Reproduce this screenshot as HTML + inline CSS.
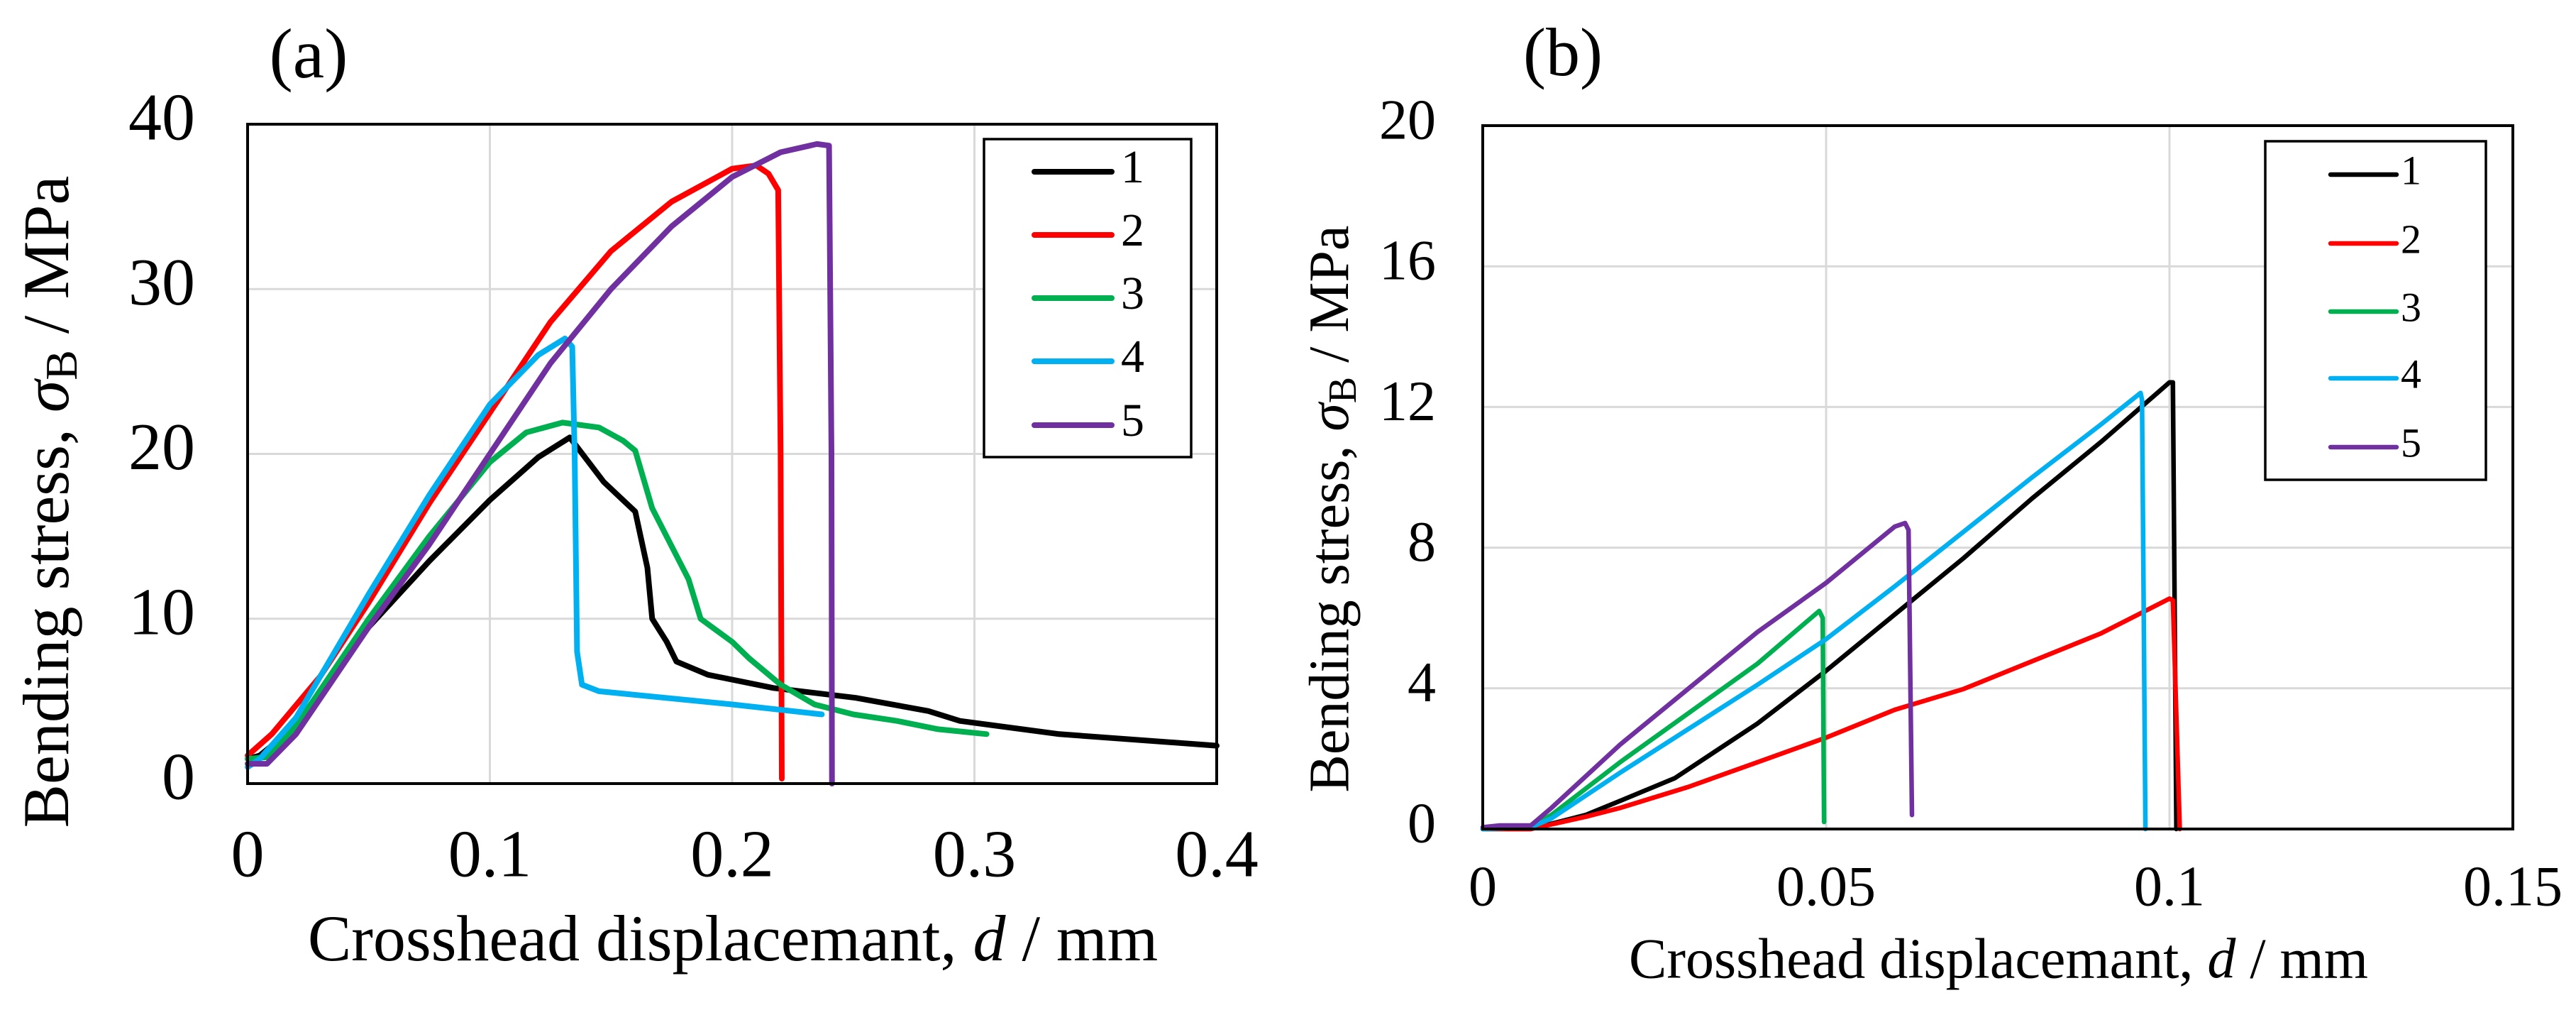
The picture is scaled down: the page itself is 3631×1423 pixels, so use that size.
<!DOCTYPE html>
<html><head><meta charset="utf-8">
<style>
html,body{margin:0;padding:0;background:#fff;}
svg{display:block;font-family:"Liberation Serif","DejaVu Serif",serif;}
</style></head>
<body>
<svg id="fig" width="3631" height="1423" viewBox="0 0 3631 1423" xmlns="http://www.w3.org/2000/svg">
<rect width="3631" height="1423" fill="#fff"/>
<g id="chartA"></g>
<g id="chartB"></g>
</svg>
<script>
// ---- Chart (a) data ----
const seriesNames = ["1","2","3","4","5"];
const seriesColors = ["#000000","#ff0000","#00b050","#00b0f0","#7030a0"];
const aXTicks = [0,0.1,0.2,0.3,0.4];
const aXTickLabels = ["0","0.1","0.2","0.3","0.4"];
const aYTicks = [0,10,20,30,40];
const aYTickLabels = ["0","10","20","30","40"];
const a1x = [0,0.005,0.02,0.05,0.075,0.1,0.12,0.133,0.147,0.16,0.165,0.167,0.173,0.177,0.19,0.217,0.251,0.281,0.294,0.335,0.4];
const a1y = [1.5,1.7,3.5,9.5,13.5,17.2,19.8,21.0,18.3,16.5,13.1,10,8.6,7.4,6.6,5.8,5.2,4.4,3.8,3.0,2.3];
const a2x = [0,0.01,0.03,0.05,0.075,0.1,0.125,0.15,0.175,0.2,0.21,0.215,0.219,0.22,0.2205];
const a2y = [1.7,3.0,6.5,11,17,22.5,28,32.3,35.3,37.3,37.5,37,36,20,0.3];
const a3x = [0,0.008,0.02,0.05,0.075,0.1,0.115,0.13,0.145,0.155,0.16,0.167,0.182,0.187,0.2,0.207,0.22,0.234,0.25,0.268,0.285,0.305];
const a3y = [1.5,1.6,3.5,10,15,19.5,21.3,21.9,21.6,20.8,20.2,16.7,12.4,10,8.6,7.6,6,4.8,4.2,3.8,3.3,3.0];
const a4x = [0,0.005,0.02,0.05,0.075,0.1,0.12,0.131,0.134,0.135,0.136,0.138,0.145,0.2,0.237];
const a4y = [1.0,1.5,4,11.5,17.5,23,26,27.0,26.5,20,8,6,5.6,4.8,4.2];
const a5x = [0,0.008,0.02,0.05,0.075,0.1,0.125,0.15,0.175,0.2,0.22,0.235,0.24,0.241,0.2412];
const a5y = [1.2,1.2,3,9.5,14.5,20,25.5,30,33.8,36.8,38.3,38.8,38.7,20,0];
// ---- Chart (b) data ----
const bXTicks = [0,0.05,0.1,0.15];
const bXTickLabels = ["0","0.05","0.1","0.15"];
const bYTicks = [0,4,8,12,16,20];
const bYTickLabels = ["0","4","8","12","16","20"];
const b1x = [0,0.007,0.015,0.02,0.028,0.04,0.05,0.06,0.07,0.08,0.09,0.1,0.1005,0.101];
const b1y = [0,0,0.4,0.8,1.45,3.0,4.5,6.1,7.7,9.4,11.0,12.7,12.7,0];
const b2x = [0,0.007,0.015,0.02,0.03,0.04,0.05,0.06,0.07,0.08,0.09,0.1,0.1005,0.1015];
const b2y = [0,0,0.35,0.6,1.2,1.9,2.6,3.39,3.98,4.77,5.56,6.55,6.5,0];
const b3x = [0,0.007,0.01,0.02,0.03,0.04,0.049,0.0495,0.0497];
const b3y = [0,0.05,0.4,1.9,3.3,4.7,6.2,6.0,0.2];
const b4x = [0,0.007,0.01,0.02,0.03,0.04,0.05,0.06,0.07,0.08,0.09,0.0958,0.096,0.0965];
const b4y = [0,0.05,0.3,1.6,2.85,4.1,5.4,6.9,8.45,10,11.5,12.4,12.2,0];
const b5x = [0,0.0025,0.007,0.01,0.02,0.03,0.04,0.05,0.06,0.0615,0.062,0.0625];
const b5y = [0.05,0.1,0.1,0.6,2.4,4.0,5.6,7.0,8.6,8.7,8.5,0.4];

const NS="http://www.w3.org/2000/svg";
function mk(parent,tag,attrs,text){
  const e=document.createElementNS(NS,tag);
  for(const k in attrs) e.setAttribute(k,attrs[k]);
  if(text!==undefined) e.textContent=text;
  parent.appendChild(e); return e;
}

function drawChart(g,cfg){
  const {L,R,T,B,xMax,yMax,xTicks,xLabels,yTicks,yLabels,sx,sy,lw,tickFs,titleFs,xTitleY,yTitleX,panel,panelX,panelY,leg} = cfg;
  const X=v=>L+(v/xMax)*(R-L);
  const Y=v=>B-(v/yMax)*(B-T);
  xTicks.forEach((t,i)=>{
    if(t>0&&t<xMax){const l=mk(g,'line',{x1:X(t),x2:X(t),y1:T,y2:B,stroke:'#d9d9d9','stroke-width':3});
    
    }
    const tx=mk(g,'text',{x:X(t),y:cfg.xLabelY,'font-size':tickFs,'text-anchor':'middle','dominant-baseline':'middle'},xLabels[i]);
    
    
  });
  yTicks.forEach((t,i)=>{
    if(t>0&&t<yMax){const l=mk(g,'line',{x1:L,x2:R,y1:Y(t),y2:Y(t),stroke:'#d9d9d9','stroke-width':3});
    
    }
    const ty=mk(g,'text',{x:cfg.yLabelX,y:Y(t),'font-size':tickFs,'text-anchor':'end','dominant-baseline':'middle'},yLabels[i]);
    
    
  });
  sx.forEach((xs,si)=>{
    const ys=sy[si];
    const d=xs.map((v,i)=>(i?'L':'M')+X(v).toFixed(1)+','+Y(ys[i]).toFixed(1)).join(' ');
    const p=mk(g,'path',{d:d,fill:'none',stroke:seriesColors[si],'stroke-width':lw,'stroke-linejoin':'round','stroke-linecap':'round'});
    
    
  });
  const fr=mk(g,'rect',{x:L,y:T,width:R-L,height:B-T,fill:'none',stroke:'#000','stroke-width':4});
  
  
  const lb=mk(g,'rect',{x:leg.x,y:leg.y,width:leg.w,height:leg.h,fill:'#fff',stroke:'#000','stroke-width':3.5});
  
  
  seriesNames.forEach((n,i)=>{
    const yy=leg.ys[i];
    const ll=mk(g,'line',{x1:leg.l1,x2:leg.l2,y1:yy,y2:yy,stroke:seriesColors[i],'stroke-width':lw,'stroke-linecap':'round'});
    
    
    const lt=mk(g,'text',{x:leg.tx,y:yy,'font-size':leg.fs,'dominant-baseline':'middle'},n);
    
    
  });
  const xt=mk(g,'text',{x:cfg.xTitleX,y:xTitleY,'font-size':titleFs,'text-anchor':'middle','dominant-baseline':'middle'});
  xt.innerHTML='Crosshead displacemant, <tspan font-style="italic">d</tspan> / mm';
  
  
  const yt=mk(g,'text',{x:0,y:0,'font-size':titleFs,'text-anchor':'middle','dominant-baseline':'middle',transform:`translate(${yTitleX},${cfg.yTitleY}) rotate(-90)`});
  yt.innerHTML='Bending stress, <tspan font-style="italic">σ</tspan><tspan font-size="'+Math.round(titleFs*0.7)+'" dy="'+Math.round(titleFs*0.2)+'">B</tspan><tspan dy="'+(-Math.round(titleFs*0.2))+'"> / MPa</tspan>';
  
  
  const pl=mk(g,'text',{x:panelX,y:panelY,'font-size':cfg.panelFs,'text-anchor':'middle','dominant-baseline':'middle'},panel);
  
  
}

drawChart(document.getElementById('chartA'),{
  L:349,R:1715,T:175,B:1104,xMax:0.4,yMax:40,
  xTicks:aXTicks,xLabels:aXTickLabels,yTicks:aYTicks,yLabels:aYTickLabels,
  sx:[a1x,a2x,a3x,a4x,a5x],sy:[a1y,a2y,a3y,a4y,a5y],lw:8,tickFs:94,titleFs:92,
  xLabelY:1213,yLabelX:275,xTitleX:1033,xTitleY:1332,yTitleX:75,yTitleY:707,
  panel:'(a)',panelX:435,panelY:86,panelFs:100,
  leg:{x:1387,y:196,w:292,h:448,ys:[242,331,420,509,599],l1:1458,l2:1567,tx:1580,fs:66}
});
drawChart(document.getElementById('chartB'),{
  L:2090,R:3542,T:177,B:1168,xMax:0.15,yMax:20,
  xTicks:bXTicks,xLabels:bXTickLabels,yTicks:bYTicks,yLabels:bYTickLabels,
  sx:[b1x,b2x,b3x,b4x,b5x],sy:[b1y,b2y,b3y,b4y,b5y],lw:6.5,tickFs:80,titleFs:80,
  xLabelY:1257,yLabelX:2024,xTitleX:2817,xTitleY:1359,yTitleX:1882,yTitleY:717,
  panel:'(b)',panelX:2203,panelY:84,panelFs:96,
  leg:{x:3193,y:199,w:311,h:477,ys:[246,343,439,533,630],l1:3285,l2:3378,tx:3384,fs:58}
});
</script>
</body></html>
